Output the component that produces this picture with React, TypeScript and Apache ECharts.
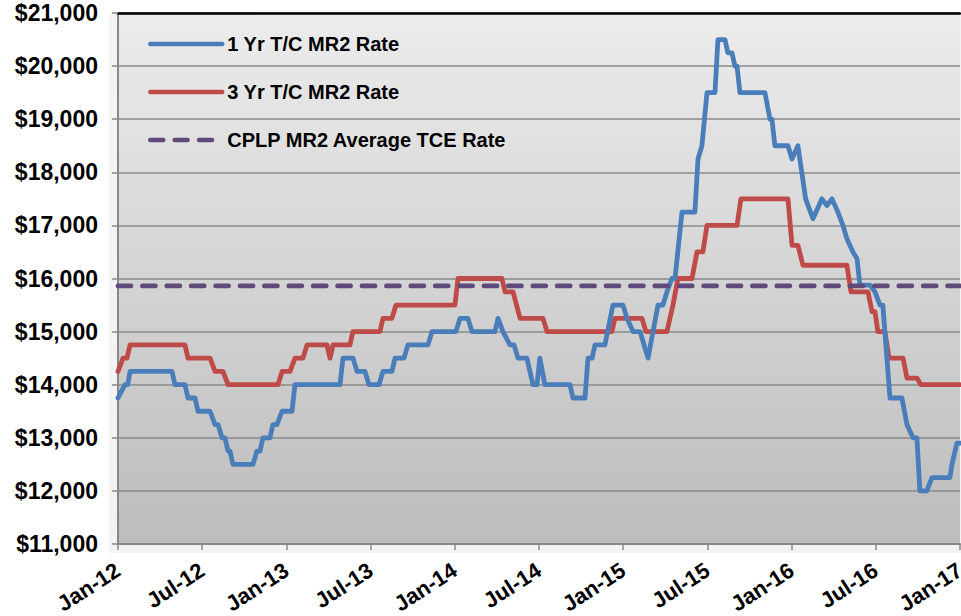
import React, { useEffect, useRef } from "react";
import * as echarts from "echarts";

// x = months since Jan 2012, y = rate in $/day
const X_LABELS = ["Jan-12", "Jul-12", "Jan-13", "Jul-13", "Jan-14", "Jul-14", "Jan-15", "Jul-15", "Jan-16", "Jul-16", "Jan-17"];
const SERIES_NAMES = ["1 Yr T/C MR2 Rate", "3 Yr T/C MR2 Rate", "CPLP MR2 Average TCE Rate"];

const oneYr: [number, number][] = [
  [0, 13750], [0.5, 14000], [0.7, 14000], [0.86, 14250], [3.85, 14250], [4.06, 14000], [4.77, 14000],
  [4.99, 13750], [5.49, 13750], [5.7, 13500], [6.56, 13500], [6.91, 13250], [7.13, 13250], [7.41, 13000],
  [7.62, 13000], [7.84, 12750], [7.98, 12750], [8.19, 12500], [9.62, 12500], [9.9, 12750], [10.12, 12750],
  [10.33, 13000], [10.83, 13000], [11.04, 13250], [11.33, 13250], [11.69, 13500], [12.4, 13500],
  [12.61, 14000], [15.82, 14000], [16.03, 14500], [16.75, 14500], [17.03, 14250], [17.6, 14250],
  [17.88, 14000], [18.6, 14000], [18.88, 14250], [19.52, 14250], [19.74, 14500], [20.38, 14500],
  [20.66, 14750], [22.09, 14750], [22.37, 15000], [24.08, 15000], [24.37, 15250], [24.94, 15250],
  [25.22, 15000], [26.86, 15000], [27.08, 15250], [27.43, 15000], [27.93, 14750], [28.22, 14750],
  [28.5, 14500], [29.14, 14500], [29.57, 14000], [29.86, 14000], [30.06, 14500], [30.42, 14000],
  [32.21, 14000], [32.42, 13750], [33.28, 13750], [33.49, 14500], [33.78, 14500], [33.99, 14750],
  [34.7, 14750], [35.27, 15500], [35.98, 15500], [36.27, 15250], [36.7, 15000], [37.2, 15000],
  [37.77, 14500], [38.48, 15500], [38.83, 15500], [39.12, 15750], [39.47, 16000], [39.69, 16000],
  [40.19, 17250], [41.11, 17250], [41.33, 18250], [41.61, 18500], [41.97, 19500], [42.54, 19500],
  [42.75, 20500], [43.25, 20500], [43.46, 20250], [43.75, 20250], [43.96, 20000], [44.11, 20000],
  [44.32, 19500], [46.1, 19500], [46.46, 19000], [46.6, 19000], [46.81, 18500], [47.74, 18500],
  [48.03, 18250], [48.45, 18500], [49.0, 17500], [49.52, 17125], [50.16, 17500], [50.52, 17375],
  [50.88, 17500], [51.3, 17250], [51.66, 17000], [51.94, 16750], [52.37, 16500], [52.66, 16375],
  [52.87, 15875], [53.58, 15875], [53.94, 15750], [54.3, 15500], [54.5, 15500], [55.01, 13750],
  [55.86, 13750], [56.22, 13250], [56.65, 13000], [56.93, 13000], [57.14, 12000], [57.64, 12000],
  [58.0, 12250], [59.28, 12250], [59.43, 12500], [59.78, 12900], [60, 12900],
];

const threeYr: [number, number][] = [
  [0, 14250], [0.36, 14500], [0.64, 14500], [0.86, 14750], [4.77, 14750], [4.99, 14500], [6.56, 14500],
  [6.91, 14250], [7.48, 14250], [7.84, 14000], [11.4, 14000], [11.69, 14250], [12.26, 14250],
  [12.61, 14500], [13.18, 14500], [13.47, 14750], [14.89, 14750], [15.11, 14500], [15.32, 14750],
  [16.53, 14750], [16.74, 15000], [18.67, 15000], [18.88, 15250], [19.52, 15250], [19.81, 15500],
  [24.01, 15500], [24.23, 16000], [27.36, 16000], [27.58, 15750], [28.15, 15750], [28.65, 15250],
  [30.28, 15250], [30.57, 15000], [35.2, 15000], [35.41, 15250], [37.34, 15250], [37.62, 15000],
  [39.12, 15000], [39.33, 15250], [39.55, 15500], [39.9, 16000], [40.9, 16000], [41.26, 16500],
  [41.68, 16500], [41.97, 17000], [44.11, 17000], [44.39, 17500], [47.74, 17500], [48.03, 16625],
  [48.45, 16625], [48.81, 16250], [51.94, 16250], [52.23, 15750], [53.44, 15750], [53.73, 15375],
  [53.94, 15375], [54.15, 15000], [54.65, 15000], [54.94, 14500], [55.94, 14500], [56.22, 14125],
  [56.93, 14125], [57.22, 14000], [60, 14000],
];

const avgTce: [number, number][] = [[0, 15860], [60, 15860]];

const COLORS = ["#4a7ebb", "#be4b48", "#604a7b"];
const FONT = "'Liberation Sans', Arial, Helvetica, sans-serif";

export default function App() {
  const ref = useRef<HTMLDivElement>(null);
  useEffect(() => {
    if (!ref.current) return;
    const chart = echarts.init(ref.current, null, { renderer: "svg" });
    chart.setOption({
      animation: false,
      backgroundColor: "#ffffff",
      graphic: [
        {
          type: "rect",
          z: -10,
          shape: { x: 109, y: 13, width: 852, height: 540 },
          style: { fill: "#f3f3f3" },
        },
      ],
      grid: {
        left: 118,
        top: 13,
        right: 1,
        bottom: 72,
        outerBoundsMode: "none",
        containLabel: false,
        show: true,
        borderWidth: 0,
        backgroundColor: new echarts.graphic.LinearGradient(0, 0, 0, 1, [
          { offset: 0, color: "#ececec" },
          { offset: 1, color: "#bcbcbc" },
        ]),
      },
      legend: {
        orient: "vertical",
        left: 148,
        top: 34,
        padding: 0,
        itemWidth: 72,
        itemHeight: 20,
        itemGap: 28,
        textStyle: { fontFamily: FONT, fontWeight: "bold", fontSize: 20, color: "#000" },
        lineStyle: { width: 4.5, cap: "round" },
        itemStyle: { opacity: 0 },
        data: SERIES_NAMES,
      },
      xAxis: [
        {
          type: "value",
          min: 0,
          max: 60,
          interval: 6,
          splitLine: { show: false },
          axisLine: { lineStyle: { color: "#888888", width: 2 } },
          axisTick: { show: true, length: 6, lineStyle: { color: "#888888", width: 1.5 } },
          axisLabel: {
            rotate: 33,
            margin: 24,
            fontFamily: FONT,
            fontWeight: "bold",
            fontSize: 22,
            color: "#000",
            formatter: (v: number) => X_LABELS[Math.round(v / 6)] ?? "",
          },
        },
        {
          type: "value",
          position: "top",
          min: 0,
          max: 60,
          axisLine: { show: true, lineStyle: { color: "#000000", width: 2.5 } },
          axisTick: { show: false },
          axisLabel: { show: false },
          splitLine: { show: false },
        },
      ],
      yAxis: {
        type: "value",
        min: 11000,
        max: 21000,
        interval: 1000,
        axisLine: { show: true, lineStyle: { color: "#888888", width: 2 } },
        axisTick: { show: true, length: 6, lineStyle: { color: "#888888", width: 1.5 } },
        splitLine: { lineStyle: { color: "#8a8a8a", width: 1.6 } },
        axisLabel: {
          margin: 20,
          fontFamily: FONT,
          fontWeight: "bold",
          fontSize: 23,
          color: "#000",
          formatter: (v: number) => "$" + v.toLocaleString("en-US"),
        },
      },
      series: [
        {
          name: SERIES_NAMES[0],
          type: "line",
          data: oneYr,
          symbol: "none",
          showSymbol: false,
          color: COLORS[0],
          lineStyle: { color: COLORS[0], width: 4.8, cap: "round", join: "round" },
          z: 3,
        },
        {
          name: SERIES_NAMES[1],
          type: "line",
          data: threeYr,
          symbol: "none",
          showSymbol: false,
          color: COLORS[1],
          lineStyle: { color: COLORS[1], width: 4.8, cap: "round", join: "round" },
          z: 2,
        },
        {
          name: SERIES_NAMES[2],
          type: "line",
          data: avgTce,
          symbol: "none",
          showSymbol: false,
          color: COLORS[2],
          lineStyle: { color: COLORS[2], width: 4.8, type: [13, 11.4], cap: "round" },
          z: 4,
        },
      ],
    });
    return () => chart.dispose();
  }, []);
  return (
    <div
      ref={ref}
      style={{ position: "fixed", left: 0, top: 0, width: 961, height: 616 }}
    />
  );
}
